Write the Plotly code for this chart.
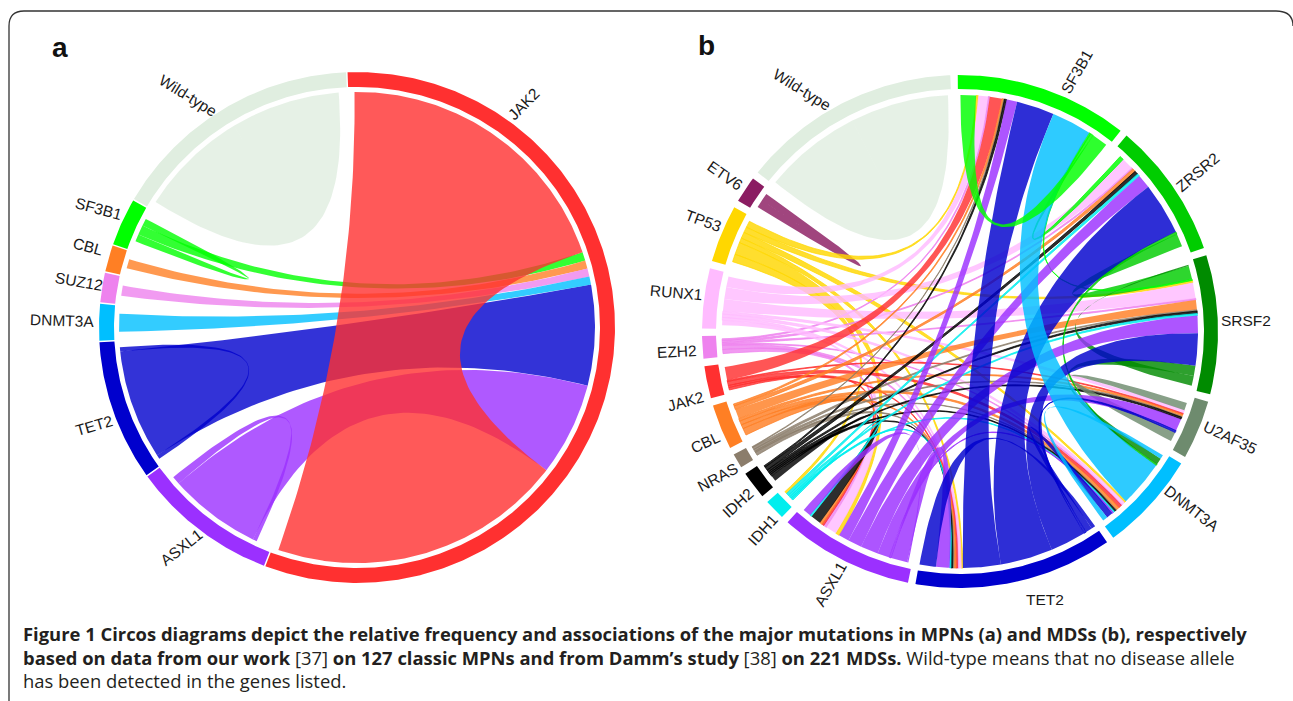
import math
import plotly.graph_objects as go

# ---------- panel a data (widths in degrees of arc) ----------
a_names = ["JAK2", "ASXL1", "TET2", "DNMT3A", "SUZ12", "CBL", "SF3B1", "Wild-type"]
a_sizes = [202.9, 33.2, 32.0, 8.3, 6.7, 6.0, 10.8, 57.4]
a_links = [
    ("TET2", "JAK2", 27.0, 24.8),
    ("ASXL1", "JAK2", 22.6, 23.0),
    ("SF3B1", "JAK2", 2.4, 2.1),
    ("CBL", "JAK2", 2.3, 2.0),
    ("SUZ12", "JAK2", 2.5, 2.0),
    ("DNMT3A", "JAK2", 4.4, 2.0),
    ("Wild-type", "Wild-type", 26.7, 26.7),
    ("TET2", "TET2", 1.0, 1.0),
    ("ASXL1", "ASXL1", 1.0, 2.0),
    ("SF3B1", "SF3B1", 1.8, 1.8),
    ("JAK2", "JAK2", 72.0, 72.0),
]

# ---------- panel b data ----------
b_names = ["SF3B1", "ZRSR2", "SRSF2", "U2AF35", "DNMT3A", "TET2", "ASXL1", "IDH1", "IDH2",
           "NRAS", "CBL", "JAK2", "EZH2", "RUNX1", "TP53", "ETV6", "Wild-type"]
b_sizes = [39.0, 30.8, 31.5, 13.4, 22.6, 44.7, 30.3, 4.7, 6.3, 3.3, 10.2, 7.3, 5.1, 13.6, 13.0, 6.0, 49.5]
b_links = [
    ("Wild-type", "Wild-type", 24.0, 24.0),
    ("ETV6", "ETV6", 1.9, 1.9),
    ("TP53", "SF3B1", 1.6, 0.5), ("TP53", "SRSF2", 1.4, 0.5), ("TP53", "DNMT3A", 1.5, 0.5),
    ("TP53", "TET2", 1.2, 0.4), ("TP53", "ASXL1", 3.0, 0.9), ("TP53", "IDH1", 1.9, 0.6),
    ("EZH2", "SF3B1", 0.4, 0.4), ("EZH2", "ZRSR2", 0.5, 0.4), ("EZH2", "SRSF2", 0.4, 0.4),
    ("EZH2", "TET2", 1.0, 0.4), ("EZH2", "ASXL1", 1.0, 0.8), ("EZH2", "DNMT3A", 0.3, 0.3),
    ("RUNX1", "SF3B1", 2.6, 2.4), ("RUNX1", "ZRSR2", 2.9, 2.9), ("RUNX1", "SRSF2", 3.0, 3.9),
    ("RUNX1", "U2AF35", 0.7, 0.8), ("RUNX1", "DNMT3A", 0.8, 0.7), ("RUNX1", "TET2", 0.7, 0.5),
    ("RUNX1", "ASXL1", 1.2, 2.7),
    ("JAK2", "SF3B1", 3.3, 3.0), ("JAK2", "DNMT3A", 1.0, 0.8), ("JAK2", "ASXL1", 0.6, 0.5),
    ("JAK2", "TET2", 0.5, 0.4), ("JAK2", "U2AF35", 0.3, 0.3),
    ("CBL", "SF3B1", 0.5, 0.4), ("CBL", "ZRSR2", 0.9, 0.8), ("CBL", "SRSF2", 2.4, 2.4),
    ("CBL", "U2AF35", 0.6, 0.5), ("CBL", "DNMT3A", 1.0, 0.8), ("CBL", "TET2", 1.0, 0.5),
    ("CBL", "ASXL1", 1.7, 0.6),
    ("NRAS", "TET2", 0.8, 0.3), ("NRAS", "SRSF2", 0.6, 0.3), ("NRAS", "U2AF35", 0.5, 0.2),
    ("NRAS", "DNMT3A", 0.3, 0.2), ("NRAS", "SF3B1", 0.2, 0.2),
    ("IDH2", "TET2", 0.5, 0.4), ("IDH2", "ASXL1", 1.4, 2.6), ("IDH2", "DNMT3A", 0.4, 0.4),
    ("IDH2", "U2AF35", 0.4, 0.5), ("IDH2", "SRSF2", 0.5, 0.6), ("IDH2", "ZRSR2", 0.9, 0.9),
    ("IDH2", "SF3B1", 0.4, 0.5),
    ("IDH1", "ASXL1", 0.4, 0.4), ("IDH1", "TET2", 0.3, 0.3), ("IDH1", "DNMT3A", 0.4, 0.4),
    ("IDH1", "SRSF2", 0.5, 0.5), ("IDH1", "ZRSR2", 0.6, 0.6),
    ("ZRSR2", "SRSF2", 3.2, 3.3), ("SF3B1", "ZRSR2", 0.7, 1.0), ("SF3B1", "SRSF2", 0.4, 0.3),
    ("U2AF35", "U2AF35", 1.9, 2.3),
    ("SRSF2", "SRSF2", 0.3, 2.4),
    ("ZRSR2", "DNMT3A", 0.6, 0.4), ("SRSF2", "DNMT3A", 2.5, 1.6),
    ("ASXL1", "U2AF35", 3.0, 3.0), ("ASXL1", "SRSF2", 4.3, 4.3), ("ASXL1", "ZRSR2", 3.4, 3.4),
    ("ASXL1", "SF3B1", 2.6, 2.6), ("ASXL1", "DNMT3A", 0.4, 0.3), ("ASXL1", "TET2", 4.0, 3.3),
    ("ASXL1", "ASXL1", 0.3, 2.0),
    ("TET2", "SRSF2", 8.8, 7.9), ("TET2", "ZRSR2", 12.8, 12.8), ("TET2", "SF3B1", 9.2, 9.2),
    ("TET2", "DNMT3A", 1.6, 1.6), ("TET2", "U2AF35", 0.5, 0.5), ("TET2", "TET2", 1.0, 4.0),
    ("DNMT3A", "SF3B1", 11.3, 9.8), ("DNMT3A", "DNMT3A", 1.0, 1.2),
    ("SF3B1", "SF3B1", 3.8, 3.9),
]

colors = {
    "SF3B1": "#00FF00", "ZRSR2": "#00CD00", "SRSF2": "#008B00", "U2AF35": "#6E8B6E",
    "DNMT3A": "#00BFFF", "TET2": "#0000CD", "ASXL1": "#9B30FF", "IDH1": "#00EEEE",
    "IDH2": "#000000", "NRAS": "#8B7D6B", "CBL": "#FF7F24", "JAK2": "#FF3030",
    "EZH2": "#EE82EE", "SUZ12": "#EE82EE", "RUNX1": "#FFBBFF", "TP53": "#FFD700",
    "ETV6": "#8B1C62", "Wild-type": "#E0EEE0",
}

a_labels = [("JAK2", 523, 104, -45), ("Wild-type", 188, 95, 32), ("SF3B1", 98, 208, 15),
            ("CBL", 88, 246, 15), ("SUZ12", 79, 281, 10), ("DNMT3A", 62, 320, 2),
            ("TET2", 94, 425, -16), ("ASXL1", 181, 547, -38)]
b_labels = [("SF3B1", 1076, 72, -60), ("ZRSR2", 1197, 172, -40), ("SRSF2", 1246, 320, 0),
            ("U2AF35", 1230, 437, 25), ("DNMT3A", 1192, 508, 38), ("TET2", 1045, 599, 0),
            ("ASXL1", 830, 584, -60), ("IDH1", 762, 530, -48), ("IDH2", 737, 503, -42),
            ("NRAS", 717, 477, -28), ("CBL", 705, 442, -25), ("JAK2", 685, 401, -15),
            ("EZH2", 677, 351, -3), ("RUNX1", 676, 292, 5), ("TP53", 703, 220, 20),
            ("ETV6", 725, 175, 35), ("Wild-type", 802, 89, 32)]

caption_lines = [
    "<b>Figure 1 Circos diagrams depict the relative frequency and associations of the major mutations in MPNs (a) and MDSs (b), respectively</b>",
    "<b>based on data from our work</b> [37] <b>on 127 classic MPNs and from Damm\u2019s study</b> [38] <b>on 221 MDSs.</b> Wild-type means that no disease allele",
    "has been detected in the genes listed.",
]

FONT = "Liberation Sans, Arial, sans-serif"
CAPTION_FONT = "Open Sans, sans-serif"


def rgba(hex_color, alpha):
    r, g, b = (int(hex_color[i:i + 2], 16) for i in (1, 3, 5))
    return f"rgba({r},{g},{b},{alpha})"


def point(c, radius, deg):
    t = math.radians(deg)
    return c[0] + radius * math.sin(t), c[1] - radius * c[2] * math.cos(t)


def arc(c, radius, d0, d1):
    n = max(2, int(abs(d1 - d0) * 2) + 2)
    return [point(c, radius, d0 + (d1 - d0) * i / (n - 1)) for i in range(n)]


def bez(p0, c, p1, n=60):
    out = []
    for i in range(n + 1):
        t = i / n
        out.append(((1 - t) ** 2 * p0[0] + 2 * t * (1 - t) * c[0] + t * t * p1[0],
                    (1 - t) ** 2 * p0[1] + 2 * t * (1 - t) * c[1] + t * t * p1[1]))
    return out


def add_poly(fig, pts, color, stroke=0):
    fig.add_trace(go.Scatter(x=[p[0] for p in pts], y=[p[1] for p in pts], mode="lines",
                             fill="toself", fillcolor=color, line=dict(width=stroke, color=color),
                             hoverinfo="skip", showlegend=False))


def draw_panel(fig, names, sizes, links, c, r_out, r_in, r_rib, start, gap, alpha):
    spans, cur = {}, start
    for n, s in zip(names, sizes):
        spans[n] = (cur, cur + s)
        cur += s + gap
    mid = {n: (v[0] + v[1]) / 2 for n, v in spans.items()}
    ends = {n: [] for n in names}
    for i, (a, b, wa, wb) in enumerate(links):
        if a == b:
            ends[a].append((1e9, i, 0, wa))
            ends[a].append((-1e9, i, 1, wb))
        else:
            ends[a].append(((mid[b] - mid[a]) % 360, i, 0, wa))
            ends[b].append(((mid[a] - mid[b]) % 360, i, 1, wb))
    pos = {}
    for n in names:
        items = sorted(ends[n], key=lambda e: -e[0])
        total = sum(e[3] for e in items)
        size = spans[n][1] - spans[n][0]
        k = min(1.0, size / total) if total else 1.0
        a = mid[n] - total * k / 2
        for _, i, side, w in items:
            pos[(i, side)] = (a, a + w * k)
            a += w * k
    for n in names:
        d0, d1 = spans[n]
        add_poly(fig, arc(c, r_out, d0, d1) + arc(c, r_in, d1, d0), colors[n])
    for i, (a, b, wa, wb) in enumerate(links):
        a0, a1 = pos[(i, 0)]
        b0, b1 = pos[(i, 1)]
        pts = arc(c, r_rib, a0, a1)
        pts += bez(point(c, r_rib, a1), c, point(c, r_rib, b0))
        pts += arc(c, r_rib, b0, b1)
        pts += bez(point(c, r_rib, b1), c, point(c, r_rib, a0))
        stroke = 0.9 if a != b and min(wa, wb) < 1.2 else 0
        add_poly(fig, pts, rgba(colors[a], alpha), stroke)


fig = go.Figure()
draw_panel(fig, a_names, a_sizes, a_links, (357, 327.5, 0.99), 258, 243, 238, -2.1, 0.34, 0.8)
draw_panel(fig, b_names, b_sizes, b_links, (960, 331.5, 0.994), 258, 244, 238, -0.5, 1.69, 0.82)

ann = []
for text, x, y, rot in a_labels + b_labels:
    ann.append(dict(x=x, y=y, xref="x", yref="y", text=text, showarrow=False, textangle=rot,
                    font=dict(family=FONT, size=15.5, color="#1a1a1a")))
ann.append(dict(x=60, y=47, xref="x", yref="y", text="<b>a</b>", showarrow=False,
                font=dict(family=FONT, size=28, color="#111")))
ann.append(dict(x=706, y=45, xref="x", yref="y", text="<b>b</b>", showarrow=False,
                font=dict(family=FONT, size=28, color="#111")))
for line, y in zip(caption_lines, [633, 657, 680]):
    ann.append(dict(x=21, y=y, xref="x", yref="y", text=line, showarrow=False, xanchor="left",
                    font=dict(family=CAPTION_FONT, size=18.4, color="#231f20")))

fig.update_layout(
    width=1293, height=701, margin=dict(l=0, r=0, t=0, b=0),
    paper_bgcolor="white", plot_bgcolor="white", showlegend=False, annotations=ann,
    xaxis=dict(range=[0, 1293], visible=False, fixedrange=True),
    yaxis=dict(range=[701, 0], visible=False, fixedrange=True),
    shapes=[dict(type="path", xref="x", yref="y",
                 path="M 9 701 L 9 26 Q 9 11 24 11 L 1276 11 Q 1293 11 1293 26",
                 line=dict(color="#333", width=1.3))],
)
fig.write_html("out.html", config={"displayModeBar": False, "responsive": False},
               post_script="document.body.style.margin='0';document.body.style.overflow='hidden';")
